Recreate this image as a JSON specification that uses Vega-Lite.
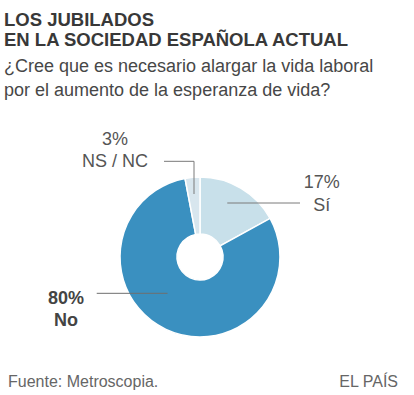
{
  "$schema": "https://vega.github.io/schema/vega-lite/v6.json",
  "width": 400,
  "height": 276,
  "autosize": {"type": "none"},
  "padding": {"left": 0, "top": 119, "right": 14, "bottom": 0},
  "background": "white",
  "config": {"view": {"stroke": null}, "font": "Liberation Sans"},
  "title": {
    "text": ["LOS JUBILADOS", "EN LA SOCIEDAD ESPAÑOLA ACTUAL"],
    "subtitle": ["¿Cree que es necesario alargar la vida laboral", "por el aumento de la esperanza de vida?"],
    "anchor": "start",
    "frame": "group",
    "dx": 4,
    "offset": 19,
    "font": "Liberation Sans",
    "fontSize": 18.5,
    "fontWeight": "bold",
    "color": "#383838",
    "lineHeight": 19.5,
    "subtitleFont": "Liberation Sans",
    "subtitleFontSize": 18,
    "subtitleColor": "#474747",
    "subtitleLineHeight": 24,
    "subtitlePadding": 9
  },
  "data": {
    "values": [
      {"category": "Sí", "pct": 0.17},
      {"category": "No", "pct": 0.80},
      {"category": "NS / NC", "pct": 0.03}
    ]
  },
  "transform": [{"calculate": "[format(datum.pct, '.0%'), datum.category]", "as": "label"}],
  "layer": [
    {
      "mark": {"type": "arc", "outerRadius": 80, "innerRadius": 23, "stroke": "white", "strokeWidth": 1.5},
      "encoding": {
        "theta": {"field": "pct", "type": "quantitative", "stack": true},
        "order": {"field": "category", "sort": "descending"},
        "color": {
          "field": "category",
          "type": "nominal",
          "scale": {"domain": ["Sí", "No", "NS / NC"], "range": ["#c8e0ea", "#3a90c0", "#d8e6ee"]},
          "legend": null
        }
      }
    },
    {
      "transform": [{"filter": "datum.category === 'Sí'"}],
      "mark": {"type": "text", "align": "center", "baseline": "top", "fontSize": 18, "lineHeight": 22.7, "color": "#555555"},
      "encoding": {
        "x": {"datum": 1.521, "type": "quantitative", "scale": {"domain": [-2.5, 2.5], "nice": false, "zero": false}, "axis": null},
        "y": {"datum": 1.036, "type": "quantitative", "scale": {"domain": [-1.725, 1.725], "nice": false, "zero": false}, "axis": null},
        "text": {"field": "label"}
      }
    },
    {
      "transform": [{"filter": "datum.category === 'NS / NC'"}],
      "mark": {"type": "text", "align": "center", "baseline": "top", "fontSize": 18, "lineHeight": 22.7, "color": "#555555"},
      "encoding": {
        "x": {"datum": -1.0625, "type": "quantitative"},
        "y": {"datum": 1.5775, "type": "quantitative"},
        "text": {"field": "label"}
      }
    },
    {
      "transform": [{"filter": "datum.category === 'No'"}],
      "mark": {"type": "text", "align": "center", "baseline": "top", "fontSize": 18, "fontWeight": "bold", "lineHeight": 22, "color": "#444444"},
      "encoding": {
        "x": {"datum": -1.675, "type": "quantitative"},
        "y": {"datum": -0.41, "type": "quantitative"},
        "text": {"field": "label"}
      }
    },
    {
      "data": {"values": [{}]},
      "layer": [
        {
          "mark": {"type": "rule", "color": "#7a7a7a", "strokeWidth": 1},
          "encoding": {
            "x": {"datum": 0.341, "type": "quantitative"},
            "x2": {"datum": 1.25},
            "y": {"datum": 0.675, "type": "quantitative"},
            "y2": {"datum": 0.675}
          }
        },
        {
          "mark": {"type": "rule", "color": "#6f6f6f", "strokeWidth": 1},
          "encoding": {
            "x": {"datum": -1.291, "type": "quantitative"},
            "x2": {"datum": -0.406},
            "y": {"datum": -0.454, "type": "quantitative"},
            "y2": {"datum": -0.454}
          }
        },
        {
          "mark": {"type": "rule", "color": "#7a7a7a", "strokeWidth": 1},
          "encoding": {
            "x": {"datum": -0.45, "type": "quantitative"},
            "x2": {"datum": -0.075},
            "y": {"datum": 1.196, "type": "quantitative"},
            "y2": {"datum": 1.196}
          }
        },
        {
          "mark": {"type": "rule", "color": "#7a7a7a", "strokeWidth": 1},
          "encoding": {
            "x": {"datum": -0.075, "type": "quantitative"},
            "x2": {"datum": -0.075},
            "y": {"datum": 1.196, "type": "quantitative"},
            "y2": {"datum": 0.7875}
          }
        },
        {
          "mark": {"type": "text", "align": "left", "baseline": "alphabetic", "fontSize": 16, "color": "#666666"},
          "encoding": {
            "x": {"datum": -2.4, "type": "quantitative"},
            "y": {"datum": -1.625, "type": "quantitative"},
            "text": {"value": "Fuente: Metroscopia."}
          }
        },
        {
          "mark": {"type": "text", "align": "right", "baseline": "alphabetic", "fontSize": 16, "color": "#666666"},
          "encoding": {
            "x": {"datum": 2.475, "type": "quantitative"},
            "y": {"datum": -1.625, "type": "quantitative"},
            "text": {"value": "EL PAÍS"}
          }
        }
      ]
    }
  ]
}
